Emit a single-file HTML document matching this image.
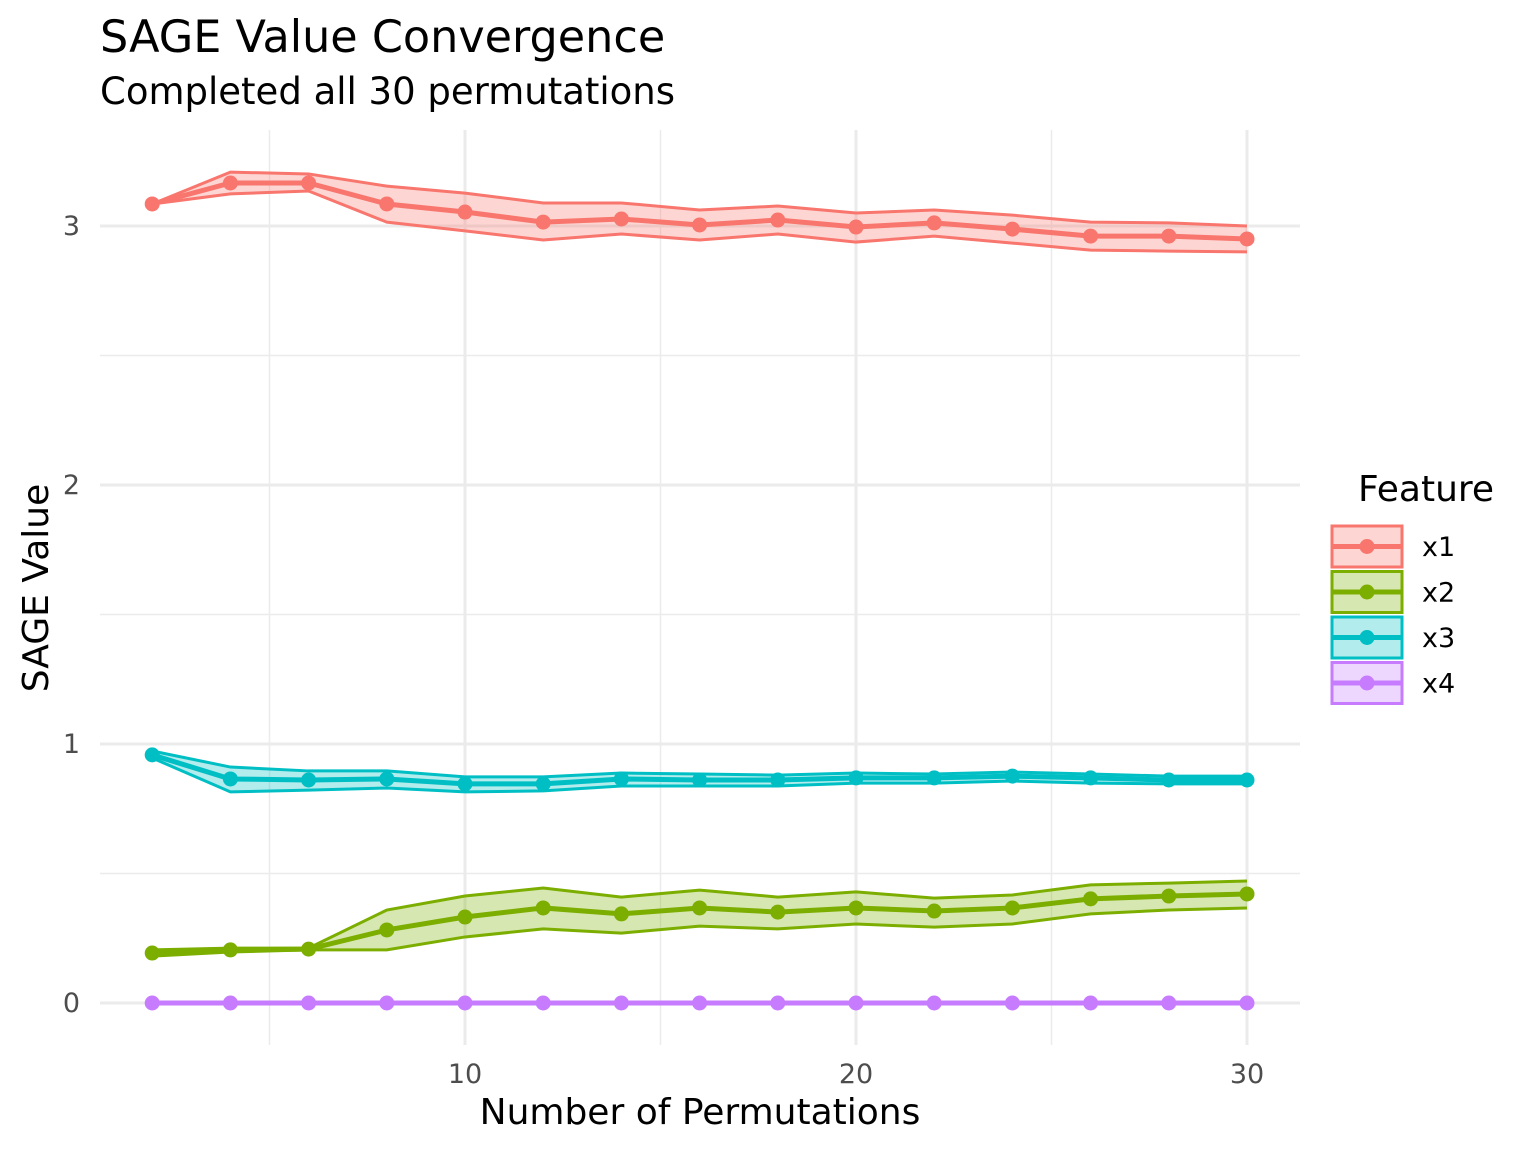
<!DOCTYPE html>
<html><head><meta charset="utf-8"><style>
body{margin:0;background:#fff}
svg text{font-family:"DejaVu Sans","Liberation Sans",sans-serif}
</style></head><body>
<svg id="chart" width="1536" height="1152" viewBox="0 0 1536 1152">
<text x="100" y="52" font-size="44.5" fill="#000">SAGE Value Convergence</text>
<text x="100" y="104" font-size="37" fill="#000">Completed all 30 permutations</text>
<g id="grid"></g>
<g id="series"></g>
<g id="axes"></g>
<text x="700" y="1124" font-size="36" text-anchor="middle">Number of Permutations</text>
<text transform="translate(48,588) rotate(-90)" font-size="36" text-anchor="middle">SAGE Value</text>
<g id="legend"></g>
</svg>
<script>
const perms=[2,4,6,8,10,12,14,16,18,20,22,24,26,28,30];
const features=["x1","x2","x3","x4"];
const colors=["#F8766D","#7CAE00","#00BFC4","#C77CFF"];
const x1Mean=[3.085,3.166,3.166,3.085,3.054,3.015,3.027,3.004,3.023,2.996,3.012,2.988,2.961,2.961,2.950];
const x1Upper=[3.085,3.208,3.201,3.154,3.127,3.089,3.089,3.062,3.077,3.050,3.062,3.042,3.015,3.012,3.000];
const x1Lower=[3.085,3.124,3.135,3.015,2.981,2.946,2.969,2.946,2.969,2.938,2.961,2.934,2.907,2.903,2.900];
const x2Mean=[0.193,0.205,0.208,0.282,0.332,0.367,0.344,0.367,0.351,0.367,0.355,0.367,0.402,0.413,0.421];
const x2Upper=[0.205,0.212,0.212,0.359,0.413,0.444,0.409,0.436,0.409,0.429,0.405,0.417,0.456,0.463,0.471];
const x2Lower=[0.181,0.197,0.205,0.205,0.255,0.286,0.270,0.297,0.286,0.305,0.293,0.305,0.344,0.359,0.367];
const x3Mean=[0.958,0.865,0.861,0.865,0.846,0.846,0.865,0.861,0.861,0.869,0.869,0.876,0.869,0.861,0.861];
const x3Upper=[0.973,0.911,0.896,0.896,0.873,0.873,0.888,0.884,0.880,0.888,0.884,0.892,0.884,0.876,0.876];
const x3Lower=[0.946,0.815,0.822,0.830,0.815,0.819,0.838,0.838,0.838,0.849,0.849,0.857,0.849,0.846,0.846];
const x4Mean=[0,0,0,0,0,0,0,0,0,0,0,0,0,0,0];
const x4Upper=[0.002,0.002,0.002,0.002,0.002,0.002,0.002,0.002,0.002,0.002,0.002,0.002,0.002,0.002,0.002];
const x4Lower=[-0.002,-0.002,-0.002,-0.002,-0.002,-0.002,-0.002,-0.002,-0.002,-0.002,-0.002,-0.002,-0.002,-0.002,-0.002];
const xTicks=[10,20,30], xMinor=[5,15,25];
const yTicks=[0,1,2,3], yMinor=[0.5,1.5,2.5];
const yTickLabels=["0","1","2","3"];

const NS="http://www.w3.org/2000/svg";
const X=v=>465+(v-10)*39.1;
const Y=v=>1003-v*259;
const L=100,R=1300,T=130,B=1045;
function mk(tag,attrs,parent){const e=document.createElementNS(NS,tag);for(const k in attrs)e.setAttribute(k,attrs[k]);parent.appendChild(e);return e;}
const grid=document.getElementById('grid'),ser=document.getElementById('series'),axes=document.getElementById('axes'),leg=document.getElementById('legend');
yMinor.forEach(v=>{const e=mk('line',{x1:L,x2:R,y1:Y(v),y2:Y(v),stroke:'#ebebeb','stroke-width':1.5},grid);});
xMinor.forEach(v=>{const e=mk('line',{x1:X(v),x2:X(v),y1:T,y2:B,stroke:'#ebebeb','stroke-width':1.5},grid);});
yTicks.forEach((v,i)=>{const e=mk('line',{x1:L,x2:R,y1:Y(v),y2:Y(v),stroke:'#ebebeb','stroke-width':3},grid);
 const t=mk('text',{x:80,y:Y(v)+9,'font-size':27,fill:'#4d4d4d','text-anchor':'end'},axes);t.textContent=yTickLabels[i];});
xTicks.forEach(v=>{const e=mk('line',{x1:X(v),x2:X(v),y1:T,y2:B,stroke:'#ebebeb','stroke-width':3},grid);
 const t=mk('text',{x:X(v),y:1083,'font-size':27,fill:'#4d4d4d','text-anchor':'middle'},axes);t.textContent=v;});
const data=[[x1Mean,x1Upper,x1Lower],[x2Mean,x2Upper,x2Lower],[x3Mean,x3Upper,x3Lower],[x4Mean,x4Upper,x4Lower]];
const pts=a=>a.map((v,i)=>X(perms[i])+','+Y(v)).join(' ');
data.forEach((d,k)=>{const c=colors[k];const g=mk('g',{},ser);
 const band=d[1].map((v,i)=>X(perms[i])+','+Y(v)).concat(d[2].map((v,i)=>X(perms[i])+','+Y(v)).reverse()).join(' ');
 const p=mk('polygon',{points:band,fill:c,'fill-opacity':0.3,stroke:'none'},g);
 const u=mk('polyline',{points:pts(d[1]),fill:'none',stroke:c,'stroke-width':3},g);
 const lo=mk('polyline',{points:pts(d[2]),fill:'none',stroke:c,'stroke-width':3},g);
 const m=mk('polyline',{points:pts(d[0]),fill:'none',stroke:c,'stroke-width':5},g);
 d[0].forEach((v,i)=>{const ci=mk('circle',{cx:X(perms[i]),cy:Y(v),r:7.5,fill:c},g);});
});
const lt=mk('text',{x:1358,y:501,'font-size':36},leg);lt.textContent='Feature';
features.forEach((f,k)=>{const c=colors[k],y0=525+k*45.5;const g=mk('g',{},leg);
 mk('rect',{x:1332,y:y0+1,width:70,height:41,fill:c,'fill-opacity':0.3,stroke:c,'stroke-width':3},g);
 mk('line',{x1:1332,x2:1402,y1:y0+21.5,y2:y0+21.5,stroke:c,'stroke-width':5},g);
 mk('circle',{cx:1367,cy:y0+21.5,r:7.5,fill:c},g);
 const t=mk('text',{x:1422,y:y0+31,'font-size':27},g);t.textContent=f;});
</script>
</body></html>
